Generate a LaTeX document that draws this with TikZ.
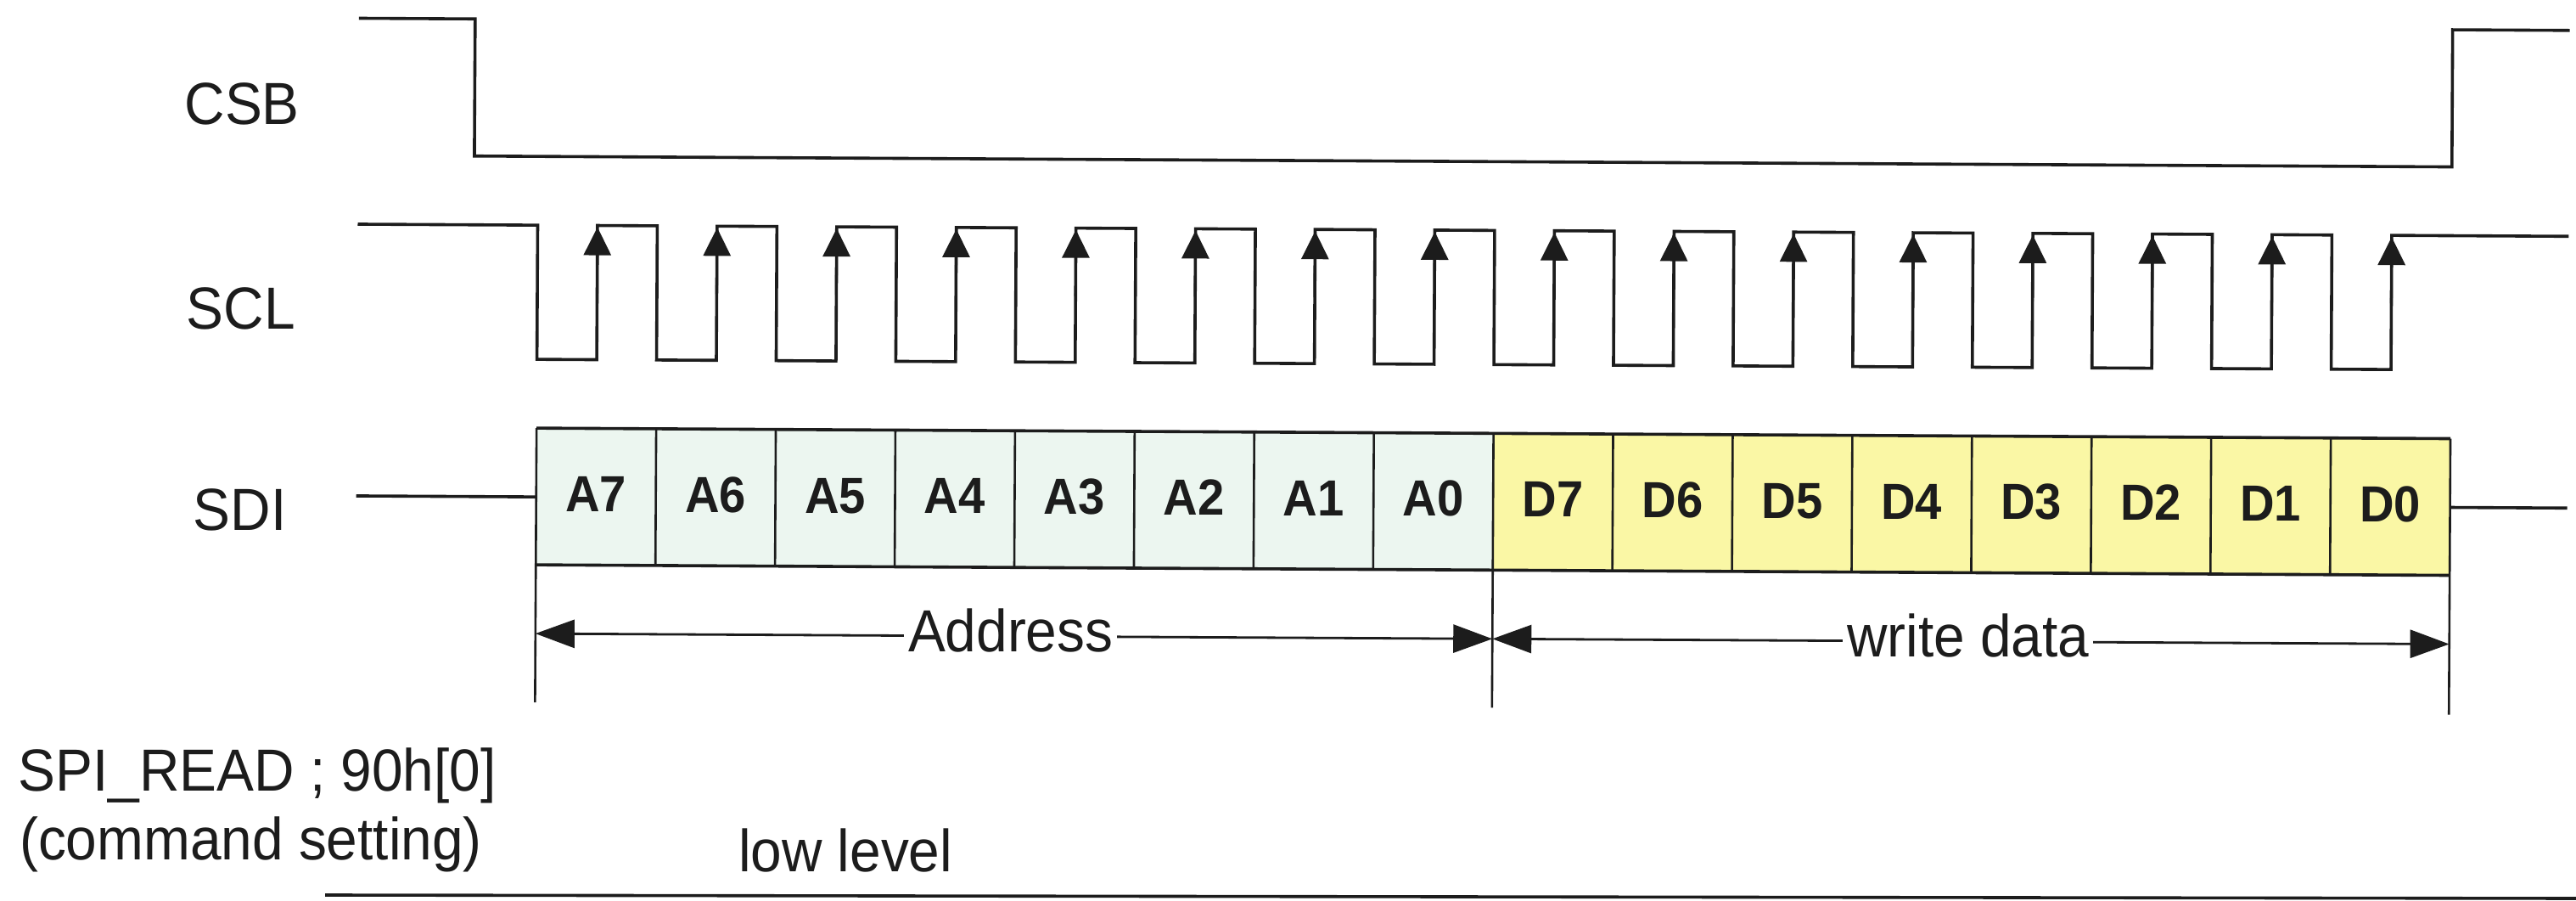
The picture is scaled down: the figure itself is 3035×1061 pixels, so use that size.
\documentclass[tikz,border=0pt]{standalone}
\usepackage{fontspec}
\setmainfont{Liberation Sans}[FakeStretch=0.94]
\usetikzlibrary{arrows.meta}
\definecolor{ink}{HTML}{1C1C1C}
\definecolor{addrfill}{RGB}{236,246,240}
\definecolor{datafill}{RGB}{250,247,165}
\begin{document}
\begin{tikzpicture}[x=0.01cm,y=-0.01cm,
  sig/.style={draw=ink,line width=0.036cm,line join=miter},
  sepline/.style={draw=ink,line width=0.026cm},
  lbl/.style={inner sep=0pt,text=ink,font=\fontsize{19.9pt}{24pt}\selectfont,anchor=base},
  lblw/.style={inner sep=0pt,text=ink,font=\fontsize{19.9pt}{24pt}\selectfont,anchor=base west},
  bit/.style={inner sep=0pt,text=ink,font=\fontsize{17pt}{20pt}\selectfont\bfseries,anchor=base},
  dimarrow/.style={draw=ink,line width=0.028cm,{Triangle[length=0.46cm,width=0.33cm]}-{Triangle[length=0.46cm,width=0.33cm]}},
  clkarrow/.style={draw=ink,line width=0.03cm,-{Triangle[length=0.33cm,width=0.32cm]}},
]
\fill[white] (0,0) rectangle (3035,1061);
\useasboundingbox (0,0) rectangle (3035,1061);
\begin{scope}[rotate around={-0.315:(1517,530)}]
  % labels
  \node[lbl] (csb) at (283,153) {CSB};
  \node[lbl] (scl) at (283,394) {SCL};
  \node[lbl] (sdi) at (283,631) {SDI};
  % CSB
  \draw[sig] (420,27.5) -- (557,27.5) -- (557,189) -- (2887,189) -- (2887,27.5) -- (3025,27.5);
  % SCL
  \draw[sig] (420,270) \foreach \i in {0,...,15} {
      -- ({632+\i*140.9375},270) -- ({632+\i*140.9375},428)
      -- ({632+(\i+0.5)*140.9375},428) -- ({632+(\i+0.5)*140.9375},270) } -- (3025,270);
  \foreach \i in {0,...,15}
    \draw[clkarrow] ({632+(\i+0.5)*140.9375},350) -- ({632+(\i+0.5)*140.9375},272);
  % SDI cells
  \fill[addrfill] (632,509) rectangle (1759.5,670);
  \fill[datafill] (1759.5,509) rectangle (2887,670);
  \foreach \i in {1,...,15}
    \draw[sepline] ({632+\i*140.9375},509) -- ({632+\i*140.9375},670);
  \draw[sig] (632,509) -- (2887,509);
  \draw[sig] (632,670) -- (2887,670);
  \coordinate (aL) at (632,751);
  \coordinate (aM) at (1759.5,751);
  \coordinate (aR) at (2887,751);
  \draw[sepline] (632,509) -- (632,832);
  \draw[sepline] (1759.5,670) -- (1759.5,832);
  \draw[sepline] (2887,509) -- (2887,834);
  \draw[sig] (420,590) -- (632,590);
  \draw[sig] (2887,590) -- (3025,590);
  \foreach \i/\t in {0/A7,1/A6,2/A5,3/A4,4/A3,5/A2,6/A1,7/A0,8/D7,9/D6,10/D5,11/D4,12/D3,13/D2,14/D1,15/D0}
    \node[bit] (c\i) at ({632+(\i+0.5)*140.9375},607) {\t};
  % dimension arrows
  \draw[dimarrow] (aL) -- (aM);
  \draw[dimarrow] (aM) -- (aR);
  \node[lbl,fill=white,inner xsep=0.05cm,inner ysep=0.01cm] (addr) at (1192,769) {Address};
  \node[lbl,fill=white,inner xsep=0.05cm,inner ysep=0.01cm] (wdata) at (2320,769) {write data};
  % bottom texts
  \node[lblw] (spi) at (23,940) {SPI\_READ ; 90h[0]};
  \node[lblw] (cmd) at (25,1021) {(command setting)};
  \node[lblw] (low) at (872,1030) {low level};
\end{scope}
\draw[sig] (383,1054) -- (3035,1058);
\end{tikzpicture}
\end{document}
